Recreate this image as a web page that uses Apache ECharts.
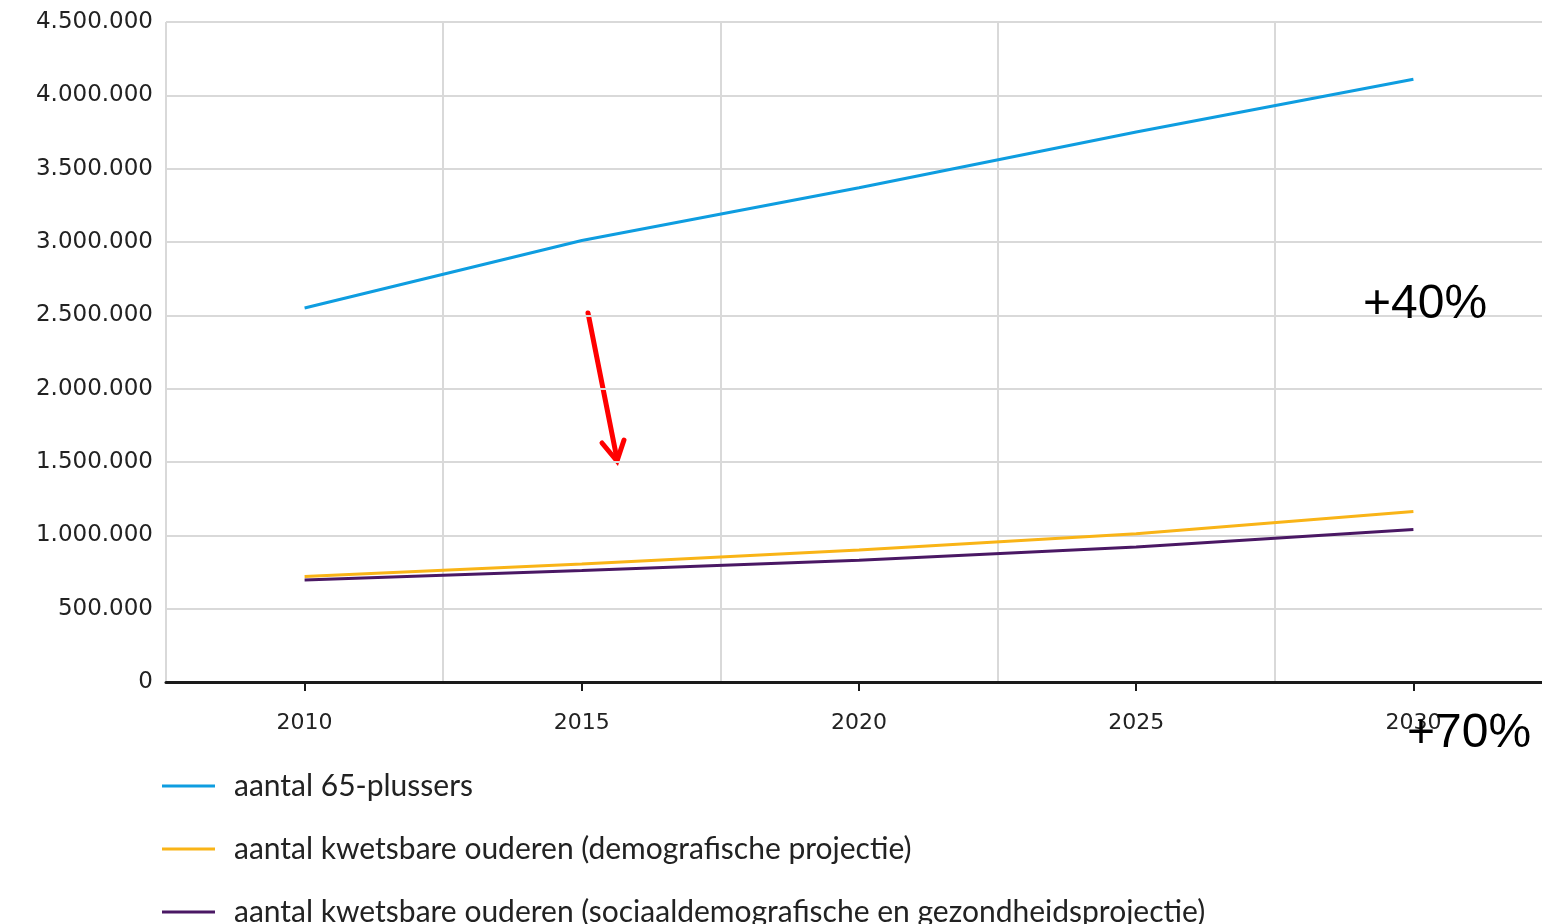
<!DOCTYPE html>
<html>
<head>
<meta charset="utf-8">
<title>Ouderen 2010-2030</title>
<script src="https://cdn.jsdelivr.net/npm/echarts@6/dist/echarts.min.js"></script>
<style>
  html, body { margin: 0; padding: 0; background: #ffffff; overflow: hidden; }
  #chart { width: 1556px; height: 980px; }
</style>
</head>
<body>
<div id="chart"></div>
<script>
// Years shown on the horizontal axis
const years = ['2010', '2015', '2020', '2025', '2030'];

// Number of people aged 65+
const plus65 = [2550000, 3010000, 3370000, 3750000, 4110000];
// Frail elderly, demographic projection
const frailDemographic = [720000, 805000, 900000, 1010000, 1163000];
// Frail elderly, socio-demographic and health projection
const frailSocialHealth = [695000, 761000, 830000, 920000, 1040000];

const seriesNames = [
  'aantal 65-plussers',
  'aantal kwetsbare ouderen (demografische projectie)',
  'aantal kwetsbare ouderen (sociaaldemografische en gezondheidsprojectie)'
];
const seriesColors = ['#0e9de0', '#f9b417', '#4a1864'];

const yMax = 4500000;
const yStep = 500000;

function dotted(v) {
  return String(v).replace(/\B(?=(\d{3})+(?!\d))/g, '.');
}

const chart = echarts.init(document.getElementById('chart'), null, { renderer: 'canvas' });

const lineSeries = [plus65, frailDemographic, frailSocialHealth].map((values, i) => ({
  name: seriesNames[i],
  type: 'line',
  data: values,
  symbol: 'none',
  smooth: false,
  lineStyle: { color: seriesColors[i], width: 3 },
  itemStyle: { color: seriesColors[i] },
  z: 3 + (2 - i)
}));

chart.setOption({
  animation: false,
  backgroundColor: '#ffffff',
  grid: { left: 166, top: 22, width: 1386, height: 660, containLabel: false },
  xAxis: {
    type: 'category',
    data: years,
    boundaryGap: true,
    axisLine: { show: true, lineStyle: { color: '#1a1a1a', width: 3 } },
    axisTick: { show: true, alignWithLabel: true, length: 9, lineStyle: { color: '#1a1a1a', width: 2 } },
    axisLabel: { color: '#222', fontFamily: 'DejaVu Sans', fontSize: 22, margin: 30 },
    splitLine: { show: true, lineStyle: { color: '#d9d9d9', width: 2 } }
  },
  yAxis: {
    type: 'value',
    min: 0,
    max: yMax,
    interval: yStep,
    axisLine: { show: false },
    axisTick: { show: false },
    axisLabel: {
      color: '#222',
      fontFamily: 'DejaVu Sans',
      fontSize: 23,
      margin: 13,
      formatter: v => dotted(v)
    },
    splitLine: { show: true, lineStyle: { color: '#d9d9d9', width: 2 } }
  },
  legend: {
    orient: 'vertical',
    left: 162,
    top: 771,
    padding: 0,
    itemWidth: 53,
    itemHeight: 3,
    itemGap: 33,
    icon: 'rect',
    data: seriesNames,
    textStyle: {
      color: '#222',
      fontFamily: 'Lato',
      fontSize: 30,
      lineHeight: 26,
      padding: [0, 0, 0, 14]
    }
  },
  graphic: [
    {
      type: 'group',
      z: 20,
      children: [
        {
          type: 'line',
          shape: { x1: 588, y1: 313, x2: 617, y2: 459 },
          style: { stroke: '#ff0000', lineWidth: 5, lineCap: 'round' }
        },
        {
          type: 'polyline',
          shape: { points: [[602, 443], [617, 461], [624, 440]] },
          style: { stroke: '#ff0000', lineWidth: 5, fill: null, lineCap: 'round', lineJoin: 'miter' }
        }
      ]
    },
    {
      type: 'text',
      z: 20,
      left: 1363,
      top: 281,
      style: { text: '+40%', fill: '#000', font: '48px "Liberation Sans", Arial, sans-serif' }
    },
    {
      type: 'text',
      z: 20,
      left: 1407,
      top: 710,
      style: { text: '+70%', fill: '#000', font: '48px "Liberation Sans", Arial, sans-serif' }
    }
  ],
  series: lineSeries
});
</script>
</body>
</html>
